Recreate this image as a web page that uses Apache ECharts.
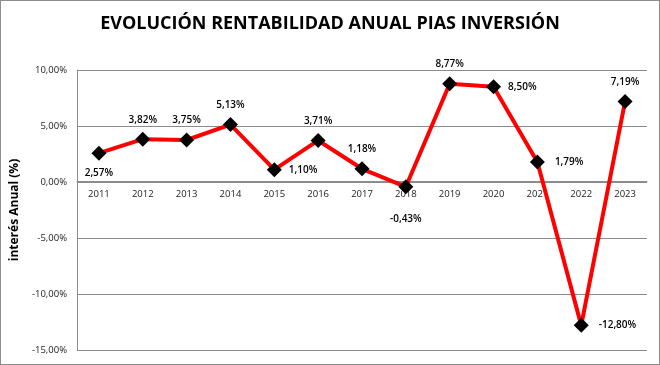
<!DOCTYPE html>
<html><head><meta charset="utf-8">
<script src="https://cdn.jsdelivr.net/npm/echarts@6/dist/echarts.min.js"></script>
<style>html,body{margin:0;padding:0;background:#fff}#c{width:660px;height:365px;box-sizing:border-box;border:1px solid #8c8c8c}</style>
</head><body><div id="c"></div>
<script>
const years = ['2011','2012','2013','2014','2015','2016','2017','2018','2019','2020','2021','2022','2023'];
const values = [2.57, 3.82, 3.75, 5.13, 1.10, 3.71, 1.18, -0.43, 8.77, 8.50, 1.79, -12.80, 7.19];
const labelPos = ['bottom','top','top','top','right','top','top','bottom','top','right','right','right','top'];
const labelDist = [7, 7, 7, 7, 7, 7, 7, 20, 7, 7, 10, 10, 7];
const yTicks = [-15, -10, -5, 0, 5, 10];
const yMin = -15, yMax = 10;

const fmt = v => v.toFixed(2).replace('.', ',') + '%';
const gridTop = 69, gridBottom = 14, H = 365;
const plotH = H - gridTop - gridBottom;
const zeroOffset = -plotH * (0 - yMin) / (yMax - yMin);

const chart = echarts.init(document.getElementById('c'));
chart.setOption({
  animation: false,
  title: {
    text: 'EVOLUCIÓN RENTABILIDAD ANUAL PIAS INVERSIÓN',
    left: 'center', top: 9,
    textStyle: {fontFamily: 'Open Sans', fontWeight: 'bold', fontSize: 18, color: '#000'}
  },
  grid: {left: 69, right: 12, top: gridTop, bottom: gridBottom, containLabel: false},
  xAxis: {
    type: 'category', data: years, boundaryGap: true,
    position: 'bottom', offset: zeroOffset,
    axisLine: {show: true, onZero: false, lineStyle: {color: '#8c8c8c'}},
    axisTick: {show: false},
    axisLabel: {fontFamily: 'Open Sans', fontSize: 9.5, color: '#222', margin: 8}
  },
  yAxis: {
    type: 'value', min: yMin, max: yMax, interval: 5,
    name: 'interés Anual (%)', nameLocation: 'middle', nameGap: 50,
    nameTextStyle: {fontFamily: 'Open Sans', fontWeight: 'bold', fontSize: 12, color: '#000'},
    axisLine: {show: true, onZero: false, lineStyle: {color: '#8c8c8c'}},
    axisTick: {show: false},
    splitLine: {show: true, lineStyle: {color: '#8c8c8c', width: 1}},
    axisLabel: {fontFamily: 'Open Sans', fontSize: 9.5, color: '#222', margin: 10,
      formatter: v => yTicks.includes(v) ? fmt(v) : ''}
  },
  series: [{
    type: 'line',
    data: values.map((v, i) => ({value: v, label: {position: labelPos[i], distance: labelDist[i]}})),
    lineStyle: {color: '#ff0000', width: 4},
    itemStyle: {color: '#000'},
    symbol: 'diamond', symbolSize: 15,
    label: {show: true, formatter: p => fmt(p.value), fontFamily: 'Open Sans', fontWeight: 600,
      fontSize: 10, color: '#000'}
  }]
});
</script></body></html>
